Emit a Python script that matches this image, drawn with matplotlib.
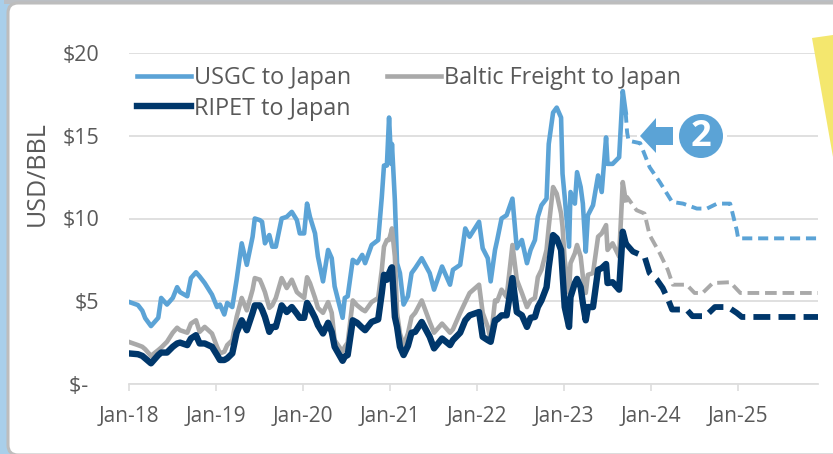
import matplotlib
matplotlib.use('Agg')
import matplotlib.pyplot as plt
from matplotlib.patches import FancyBboxPatch, Polygon, Circle, Rectangle

plt.rcParams['font.family'] = ['Open Sans', 'DejaVu Sans']

# months since Jan-18
months = [0, 1.3, 1.9, 2.3, 3.1, 4.1, 4.5, 5.3, 6.1, 6.7,
          7.1, 8.1, 8.6, 9.3, 9.8, 10.5, 11.5, 12.2, 12.6, 13.2,
          13.6, 14.3, 14.9, 15.6, 16.3, 17.1, 17.4, 18.1, 18.4, 18.8,
          19.4, 19.8, 20.3, 21.1, 21.8, 22.5, 23.2, 23.6, 24.2, 24.6,
          25.0, 25.7, 26.1, 26.8, 27.5, 28.0, 28.4, 29.5, 29.8, 30.2,
          30.9, 31.5, 32.2, 32.6, 33.5, 34.4, 34.9, 35.2, 35.6, 35.9,
          36.2, 36.3, 36.7, 37.0, 37.4, 37.9, 38.5, 39.0, 39.5, 40.4,
          41.5, 42.1, 43.2, 44.3, 44.7, 45.7, 46.4, 47.0, 48.3, 48.8,
          49.5, 49.9, 50.5, 50.8, 51.4, 52.1, 52.9, 53.5, 54.2, 54.9,
          55.4, 56.0, 56.4, 56.9, 57.6, 57.9, 58.5, 59.0, 59.6, 59.8,
          60.1, 60.7, 60.9, 61.5, 61.8, 62.3, 62.6, 63.0, 63.3, 64.0,
          64.7, 65.2, 65.8, 66.0, 66.7, 67.6, 68.1, 68.5]

usgc = [4.97, 4.77, 4.43, 3.98, 3.5, 4.0, 5.2, 4.8, 5.2, 5.85,
        5.55, 5.3, 6.4, 6.75, 6.5, 6.1, 5.4, 4.65, 4.8, 4.2,
        4.9, 4.65, 6.3, 8.5, 7.2, 8.9, 10.0, 9.9, 9.8, 8.5,
        9.0, 8.3, 8.3, 10.0, 10.1, 10.4, 9.9, 9.1, 9.1, 10.9,
        10.1, 9.1, 7.7, 6.2, 8.1, 7.6, 5.9, 4.0, 5.2, 5.3,
        7.5, 7.3, 7.8, 7.3, 8.4, 8.7, 11.3, 13.2, 13.2, 16.1,
        13.3, 14.5, 11.1, 7.3, 6.7, 4.8, 5.3, 6.7, 7.0, 7.6,
        6.7, 5.7, 7.1, 6.0, 6.9, 7.2, 9.4, 8.9, 9.8, 8.2,
        7.6, 6.2, 8.1, 8.7, 10.0, 10.2, 11.2, 8.2, 8.7, 7.3,
        8.1, 8.7, 10.1, 10.8, 11.2, 14.5, 16.4, 16.7, 16.1, 12.7,
        11.3, 8.3, 11.6, 10.9, 12.8, 11.9, 10.9, 8.0, 10.2, 10.8,
        12.6, 11.6, 14.9, 13.3, 13.3, 13.7, 17.7, 16.4]

baltic = [2.55, 2.35, 2.25, 2.1, 1.7, 2.05, 2.2, 2.55, 3.1, 3.4,
          3.25, 3.1, 3.65, 3.85, 3.15, 3.45, 3.05, 2.25, 1.85, 1.95,
          2.35, 2.65, 4.05, 5.2, 4.45, 5.7, 6.4, 6.3, 6.0, 5.55,
          4.6, 4.75, 5.2, 6.4, 5.8, 6.3, 5.55, 5.4, 5.2, 6.45,
          6.1, 5.2, 4.6, 4.3, 4.95, 4.3, 2.65, 1.95, 2.25, 2.5,
          5.05, 4.75, 4.5, 4.4, 4.95, 5.2, 6.9, 8.3, 8.7, 8.7,
          9.2, 9.4, 7.7, 4.3, 3.05, 2.35, 3.05, 4.05, 4.3, 5.05,
          3.75, 3.1, 3.65, 3.1, 3.3, 4.3, 4.95, 5.5, 6.0, 4.3,
          3.45, 2.65, 5.05, 5.0, 5.7, 5.25, 8.4, 6.3, 5.5, 4.65,
          5.05, 5.2, 6.45, 6.9, 8.1, 9.5, 11.9, 11.5, 10.3, 9.5,
          7.5, 5.5, 7.3, 7.9, 8.4, 7.7, 6.5, 5.5, 6.6, 6.7,
          8.9, 9.1, 9.6, 8.1, 8.5, 7.7, 12.2, 11.1]

ripet = [1.85, 1.8, 1.7, 1.55, 1.25, 1.75, 1.9, 1.9, 2.25, 2.45,
         2.5, 2.35, 2.75, 2.95, 2.45, 2.45, 2.25, 1.75, 1.45, 1.45,
         1.55, 1.85, 3.1, 3.85, 3.25, 4.3, 4.75, 4.75, 4.5, 4.05,
         3.15, 3.45, 3.45, 4.75, 4.35, 4.65, 4.25, 4.0, 4.0, 4.9,
         4.6, 4.0, 3.55, 3.05, 3.7, 3.15, 2.25, 1.4, 1.65, 1.75,
         3.85, 3.7, 3.4, 3.25, 3.75, 3.9, 5.5, 6.6, 6.3, 6.7,
         7.0, 7.05, 4.05, 3.45, 2.25, 1.75, 2.3, 3.1, 3.15, 3.75,
         2.85, 2.15, 2.75, 2.35, 2.65, 3.1, 3.85, 4.15, 4.35, 2.85,
         2.65, 2.55, 3.85, 3.9, 4.15, 4.15, 6.4, 4.35, 4.15, 3.45,
         4.0, 4.05, 4.65, 5.05, 5.85, 7.05, 9.0, 8.8, 8.1, 6.7,
         4.65, 3.45, 5.25, 6.1, 6.35, 5.85, 4.9, 3.85, 4.65, 4.65,
         6.9, 7.0, 7.25, 6.1, 6.15, 5.7, 9.2, 8.5]

# forward curves
usgc_fwd_months = [68.5, 68.7, 68.9, 70.5, 71.8, 73.2, 74.9, 76.4, 78.3, 79.7, 81.1, 82.9, 83.8, 84, 95]
usgc_fwd = [16.4, 15.2, 14.7, 14.55, 13.1, 12.2, 11.0, 10.9, 10.6, 10.6, 10.9, 10.9, 9.3, 8.8, 8.8]
baltic_fwd_months = [68.5, 68.7, 70, 71.1, 71.8, 73.2, 74.3, 75, 76.9, 78, 79.1, 80.5, 82.9, 84.3, 95]
baltic_fwd = [11.1, 11.3, 10.5, 10.3, 9.0, 7.9, 6.9, 6.0, 6.0, 5.5, 5.5, 6.1, 6.15, 5.5, 5.5]
ripet_fwd_months = [68.5, 69.5, 71.1, 71.8, 72.8, 73.6, 74.4, 74.9, 76.9, 77.7, 79.5, 80.8, 82.6, 83.8, 84.5, 95]
ripet_fwd = [8.5, 8.0, 7.7, 6.7, 6.3, 5.8, 5.05, 4.5, 4.5, 4.1, 4.1, 4.65, 4.65, 4.3, 4.05, 4.05]

x_ticks = [0, 12, 24, 36, 48, 60, 72, 84]
x_labels = ['Jan-18', 'Jan-19', 'Jan-20', 'Jan-21', 'Jan-22', 'Jan-23', 'Jan-24', 'Jan-25']
y_ticks = [0, 5, 10, 15, 20]
y_labels = ['$-  ', '$5', '$10', '$15', '$20']

BLUE = '#5BA3D6'
GRAY = '#A9A9A9'
NAVY = '#00376B'
TEXT = '#595959'
GRID = '#DDDDDD'

W, H = 833, 454
fig = plt.figure(figsize=(W / 100, H / 100), dpi=100, facecolor='#A9CFEA')

# card behind the chart
bg = fig.add_axes([0, 0, 1, 1], zorder=-1)
bg.set_xlim(0, W)
bg.set_ylim(H, 0)
bg.axis('off')
bg.add_patch(Rectangle((4, 0), W, 4, color='#BBBFC4', lw=0))
bg.add_patch(FancyBboxPatch((8, 3), W + 20, H - 2, boxstyle='round,pad=0,rounding_size=10',
                            fc='white', ec='#BDBDBD', lw=2.2))

ax = fig.add_axes([128.5 / W, 1 - 384 / H, 689.5 / W, 331 / H])
ax.patch.set_alpha(0)

ax.plot(months, usgc, color=BLUE, lw=3.3, solid_joinstyle='round', label='USGC to Japan')
ax.plot(usgc_fwd_months, usgc_fwd, color=BLUE, lw=2.8, ls=(0, (2.6, 1.5)))
ax.plot(months, baltic, color=GRAY, lw=3.3, solid_joinstyle='round', label='Baltic Freight to Japan')
ax.plot(baltic_fwd_months, baltic_fwd, color=GRAY, lw=2.8, ls=(0, (3.0, 1.5)))
ax.plot(months, ripet, color=NAVY, lw=4.6, solid_joinstyle='round', label='RIPET to Japan')
ax.plot(ripet_fwd_months, ripet_fwd, color=NAVY, lw=4.2, ls=(0, (2.9, 1.4)))

ax.set_xlim(0, 95)
ax.set_ylim(0, 20)
ax.set_xticks(x_ticks)
ax.set_xticklabels(x_labels)
ax.set_yticks(y_ticks)
ax.set_yticklabels(y_labels)
ax.tick_params(axis='x', length=5, width=1.2, color=GRID, labelcolor=TEXT, labelsize=15, pad=11)
ax.tick_params(axis='y', length=0, labelcolor=TEXT, labelsize=15.5, pad=21)
ax.grid(True, axis='y', color=GRID, lw=1.3)
ax.set_axisbelow(True)
for s in ['top', 'right', 'left']:
    ax.spines[s].set_visible(False)
ax.spines['bottom'].set_color(GRID)
ax.spines['bottom'].set_linewidth(1.3)
fig.text(37 / W, 1 - 174 / H, 'USD/BBL', color=TEXT, fontsize=18, rotation=90, ha='center', va='center')

h, l = ax.get_legend_handles_labels()
order = [0, 2, 1]
ax.legend([h[i] for i in order], [l[i] for i in order], ncols=2, frameon=False, fontsize=16.8,
          loc='upper left', bbox_to_anchor=(137 / W, 1 - 66 / H), bbox_transform=fig.transFigure,
          borderpad=0, borderaxespad=0, handlelength=2.3, handletextpad=0.16,
          columnspacing=1.52, labelspacing=0.28, labelcolor=TEXT)

# callout and note on top
top = fig.add_axes([0, 0, 1, 1], zorder=5)
top.set_xlim(0, W)
top.set_ylim(H, 0)
top.axis('off')
top.add_patch(Rectangle((637, 134), 90, 5, color='white', lw=0))
top.add_patch(Polygon([(640, 136), (656, 118), (656, 127), (673, 127), (673, 145), (656, 145), (656, 153)],
                      closed=True, fc=BLUE, ec='none'))
top.add_patch(Circle((701, 136), 22, fc=BLUE, ec='none'))
top.text(701, 137, '2', color='white', fontsize=26, fontweight='bold', ha='center', va='center')
top.add_patch(Polygon([(812, 38), (833, 35), (833, 157)], closed=True, fc='#F4E76E', ec='none'))

fig.savefig('out.png', dpi=100, facecolor=fig.get_facecolor())
